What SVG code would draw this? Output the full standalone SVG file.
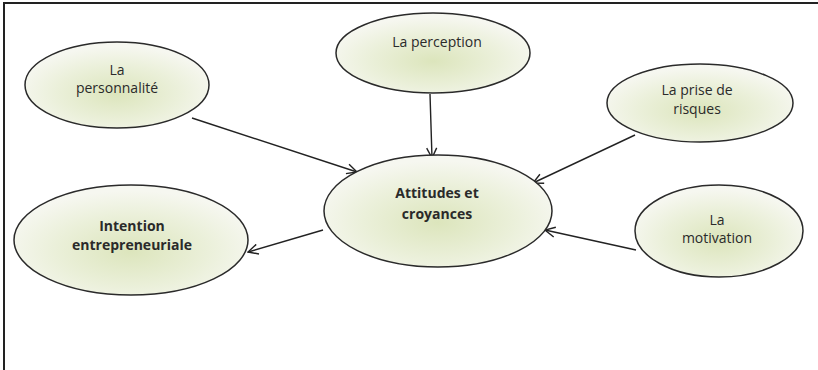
<svg xmlns="http://www.w3.org/2000/svg" width="818" height="370" viewBox="0 0 818 370">
<defs>
<radialGradient id="g" cx="50%" cy="60%" r="55%">
<stop offset="0" stop-color="#dce5bc"/>
<stop offset="0.6" stop-color="#ebf0da"/>
<stop offset="1" stop-color="#f6f7f0"/>
</radialGradient>
<marker id="a" viewBox="0 0 12 12" refX="11" refY="6" markerWidth="12" markerHeight="12" markerUnits="userSpaceOnUse" orient="auto">
<path d="M1,1 L11,6 L1,11" fill="none" stroke="#222" stroke-width="1.4"/>
</marker>
</defs>
<style>
.n ellipse{fill:url(#g);stroke:#2a2a2a;stroke-width:1.5}
.n text{font-family:"Open Sans","Liberation Sans",sans-serif;font-size:14px;fill:#2a2a2a;text-anchor:middle}
.n text.b{font-weight:bold;font-size:14px}
.c line{stroke:#222;stroke-width:1.4;marker-end:url(#a)}
</style>
<rect width="818" height="370" fill="#fff"/>
<path d="M4,370 V3 H818" fill="none" stroke="#222" stroke-width="2"/>
<g class="c">
<line x1="192" y1="118" x2="357" y2="172"/>
<line x1="430" y1="94" x2="432" y2="158"/>
<line x1="635" y1="135" x2="533" y2="183"/>
<line x1="636" y1="250" x2="545" y2="230"/>
<line x1="323" y1="230" x2="248" y2="252"/>
</g>
<g id="personnalite" class="n">
<ellipse cx="117" cy="85" rx="92" ry="43"/>
<text x="117" y="75">La</text>
<text x="117" y="93">personnalité</text>
</g>
<g id="perception" class="n">
<ellipse cx="433" cy="53" rx="97" ry="40"/>
<text x="437" y="47">La perception</text>
</g>
<g id="prise" class="n">
<ellipse cx="700" cy="103" rx="93" ry="39"/>
<text x="697" y="95">La prise de</text>
<text x="697" y="114">risques</text>
</g>
<g id="attitudes" class="n">
<ellipse cx="438" cy="211" rx="114" ry="56"/>
<text class="b" x="437" y="198">Attitudes et</text>
<text class="b" x="437" y="219">croyances</text>
</g>
<g id="intention" class="n">
<ellipse cx="131" cy="240" rx="117" ry="55"/>
<text class="b" x="132" y="231">Intention</text>
<text class="b" x="132" y="250">entrepreneuriale</text>
</g>
<g id="motivation" class="n">
<ellipse cx="719" cy="231" rx="84" ry="46"/>
<text x="717" y="225">La</text>
<text x="717" y="243">motivation</text>
</g>
</svg>
